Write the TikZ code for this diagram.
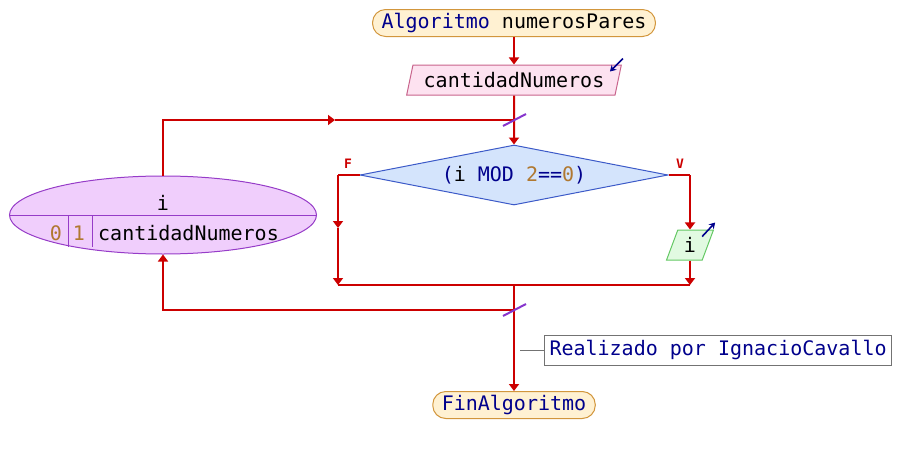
\documentclass[tikz,border=0pt]{standalone}
\usepackage{fontspec}
\setmainfont{DejaVu Sans Mono}
\usetikzlibrary{shapes.geometric,arrows.meta}

\definecolor{rojo}{RGB}{204,0,0}
\definecolor{azulosc}{RGB}{0,0,140}
\definecolor{numero}{RGB}{176,120,48}
\definecolor{fondoIni}{RGB}{255,241,210}
\definecolor{bordeIni}{RGB}{210,150,60}
\definecolor{fondoLeer}{RGB}{253,226,240}
\definecolor{bordeLeer}{RGB}{200,100,140}
\definecolor{fondoPara}{RGB}{240,206,252}
\definecolor{bordePara}{RGB}{150,60,200}
\definecolor{fondoSi}{RGB}{212,228,252}
\definecolor{bordeSi}{RGB}{60,90,200}
\definecolor{fondoEsc}{RGB}{225,250,225}
\definecolor{bordeEsc}{RGB}{100,200,100}

\begin{document}
\begin{tikzpicture}[x=1pt,y=-1pt,
    font=\fontsize{20}{22}\selectfont,
    flujo/.style={draw=rojo, line width=2pt},
    flecha/.style={flujo, -{Triangle[width=10pt,length=7pt]}},
    icono/.style={draw=azulosc, line width=1.6pt, -{Stealth[width=7pt,length=6pt]}},
    barra/.style={draw=bordePara!90!blue, line width=2pt},
    terminal/.style={rectangle, rounded corners=13pt, draw=bordeIni, fill=fondoIni, line width=1pt, minimum height=27pt, inner xsep=9pt, inner ysep=0pt, text=azulosc},
    entrada/.style={trapezium, trapezium left angle=70, trapezium right angle=110, trapezium stretches=true, line width=1pt, minimum height=30pt, inner sep=0pt}]
    \useasboundingbox (0,0) rectangle (902,455);

    % Nodes
    \node (inicio) [terminal] at (514,23) {Algoritmo \textcolor{black}{numerosPares}};
    \node (leer) [entrada, draw=bordeLeer, fill=fondoLeer, minimum width=215pt] at (514,80) {cantidadNumeros};
    \node (cond) [diamond, aspect=5, draw=bordeSi, fill=fondoSi, line width=1pt, minimum width=308pt, minimum height=60pt, inner sep=0pt, text=azulosc] at (514,175)
        {(\textcolor{black}{i} MOD \textcolor{numero}{2}==\textcolor{numero}{0})};
    \node (escribir) [entrada, draw=bordeEsc, fill=fondoEsc, minimum width=47pt] at (690,245) {i};
    \node (para) [ellipse, draw=bordePara, fill=fondoPara, line width=1pt, minimum width=307pt, minimum height=78pt, inner sep=0pt] at (163,215) {};
    \node (pVar) at (163,203) {i};
    \node (pIni) [text=numero] at (56,233) {0};
    \node (pPaso) [text=numero] at (79,233) {1};
    \node (pFin) [anchor=west, inner xsep=0pt] at (98,233) {cantidadNumeros};
    \node (fin) [terminal] at (514,405) {FinAlgoritmo};
    \node (nota) [rectangle, draw=black!55, fill=white, line width=1pt, anchor=west, minimum height=30pt, inner xsep=5pt, inner ysep=0pt, text=azulosc] at (544,350) {Realizado por IgnacioCavallo};
    \node (etqF) [text=rojo, font=\fontsize{13}{14}\selectfont\bfseries] at (348,164) {F};
    \node (etqV) [text=rojo, font=\fontsize{13}{14}\selectfont\bfseries] at (680,164) {V};

    % Coordinates
    \coordinate (bucleSup) at (163,120);
    \coordinate (m1) at (335,120);
    \coordinate (cruceSup) at (514,120);
    \coordinate (esqF) at (338,175);
    \coordinate (mF) at (338,228);
    \coordinate (finF) at (338,285);
    \coordinate (esqV) at (690,175);
    \coordinate (finV) at (690,285);
    \coordinate (union) at (514,285);
    \coordinate (cruceInf) at (514,310);
    \coordinate (notaPunto) at (520,350);

    % Ellipse details
    \draw[bordePara, line width=1pt] (para.west) -- (para.east);
    \draw[bordePara, line width=1pt] (68,215) -- (68,247);
    \draw[bordePara, line width=1pt] (92,215) -- (92,247);

    % Arrows
    \draw[flecha] (inicio) -- (leer);
    \draw[flecha] (para.north) |- (m1);
    \draw[flujo] (m1) -- (cruceSup);
    \draw[flecha] (leer.south) -- (cond.north);
    \draw[flujo] (cond.west) -- (esqF);
    \draw[flecha] (esqF) -- (mF);
    \draw[flecha] (mF) -- (finF);
    \draw[flujo] (cond.east) -- (esqV);
    \draw[flecha] (esqV) -- (escribir.north);
    \draw[flecha] (escribir.south) -- (finV);
    \draw[flujo] (finF) -- (finV);
    \draw[flecha] (union) -- (fin.north);
    \draw[flecha] (cruceInf) -| (para.south);
    \draw[black!55, line width=1pt] (notaPunto) -- (nota.west);

    % Marks
    \draw[barra] ([shift={(-11,6)}]cruceSup) -- ([shift={(12,-6)}]cruceSup);
    \draw[barra] ([shift={(-11,6)}]cruceInf) -- ([shift={(12,-6)}]cruceInf);
    \draw[icono] ([shift={(1,-6)}]leer.top right corner) -- ([shift={(-12,7)}]leer.top right corner);
    \draw[icono] ([shift={(-12,7)}]escribir.top right corner) -- ([shift={(1,-7)}]escribir.top right corner);
\end{tikzpicture}
\end{document}
